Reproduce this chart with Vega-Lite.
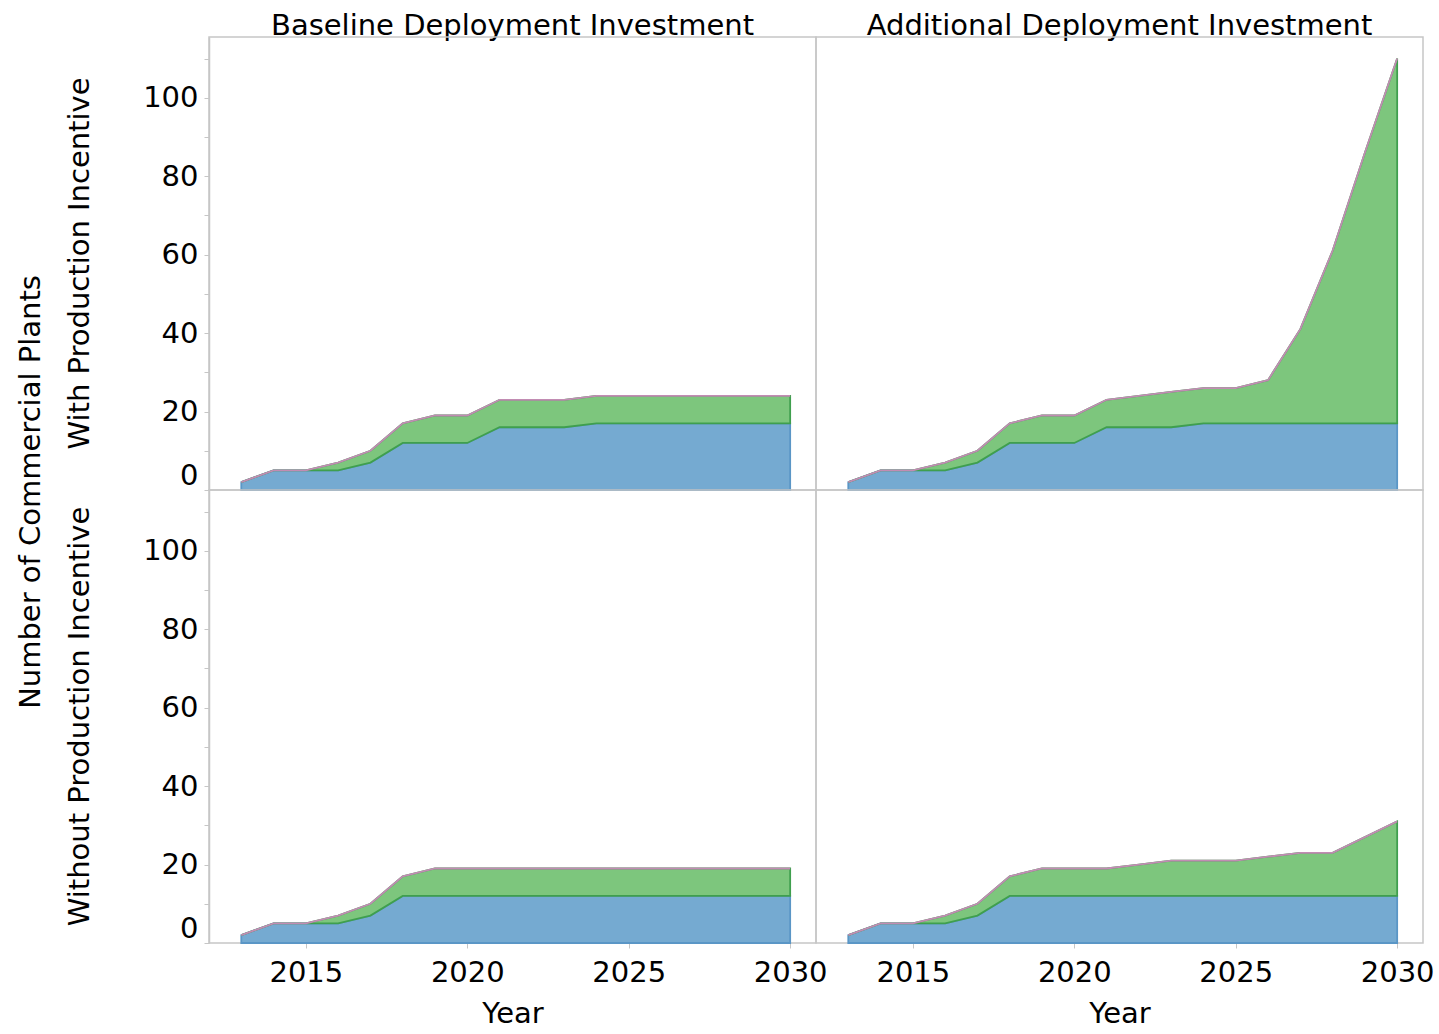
{
  "$schema": "https://vega.github.io/schema/vega-lite/v6.json",
  "padding": {"left": 16, "top": 12, "right": 10, "bottom": 5},
  "bounds": "flush",
  "config": {
    "font": "DejaVu Sans",
    "view": {"stroke": "#c6c6c6", "strokeWidth": 1.5},
    "facet": {"spacing": 0},
    "axis": {
      "grid": false,
      "domainColor": "#c6c6c6",
      "domainWidth": 1.5,
      "tickColor": "#c6c6c6",
      "tickSize": 5,
      "labelFontSize": 29,
      "labelColor": "#000000",
      "titleFontSize": 29,
      "titleFontWeight": "normal",
      "titleColor": "#000000"
    },
    "header": {
      "labelFontSize": 29,
      "labelColor": "#000000",
      "titleFontSize": 29,
      "titleFontWeight": "normal",
      "titleColor": "#000000"
    }
  },
  "data": {
    "values": [
      {"investment": "Baseline Deployment Investment", "incentive": "With Production Incentive", "year": 2013, "group": "Group 1", "plants": 2},
      {"investment": "Baseline Deployment Investment", "incentive": "With Production Incentive", "year": 2014, "group": "Group 1", "plants": 5},
      {"investment": "Baseline Deployment Investment", "incentive": "With Production Incentive", "year": 2015, "group": "Group 1", "plants": 5},
      {"investment": "Baseline Deployment Investment", "incentive": "With Production Incentive", "year": 2016, "group": "Group 1", "plants": 5},
      {"investment": "Baseline Deployment Investment", "incentive": "With Production Incentive", "year": 2017, "group": "Group 1", "plants": 7},
      {"investment": "Baseline Deployment Investment", "incentive": "With Production Incentive", "year": 2018, "group": "Group 1", "plants": 12},
      {"investment": "Baseline Deployment Investment", "incentive": "With Production Incentive", "year": 2019, "group": "Group 1", "plants": 12},
      {"investment": "Baseline Deployment Investment", "incentive": "With Production Incentive", "year": 2020, "group": "Group 1", "plants": 12},
      {"investment": "Baseline Deployment Investment", "incentive": "With Production Incentive", "year": 2021, "group": "Group 1", "plants": 16},
      {"investment": "Baseline Deployment Investment", "incentive": "With Production Incentive", "year": 2022, "group": "Group 1", "plants": 16},
      {"investment": "Baseline Deployment Investment", "incentive": "With Production Incentive", "year": 2023, "group": "Group 1", "plants": 16},
      {"investment": "Baseline Deployment Investment", "incentive": "With Production Incentive", "year": 2024, "group": "Group 1", "plants": 17},
      {"investment": "Baseline Deployment Investment", "incentive": "With Production Incentive", "year": 2025, "group": "Group 1", "plants": 17},
      {"investment": "Baseline Deployment Investment", "incentive": "With Production Incentive", "year": 2026, "group": "Group 1", "plants": 17},
      {"investment": "Baseline Deployment Investment", "incentive": "With Production Incentive", "year": 2027, "group": "Group 1", "plants": 17},
      {"investment": "Baseline Deployment Investment", "incentive": "With Production Incentive", "year": 2028, "group": "Group 1", "plants": 17},
      {"investment": "Baseline Deployment Investment", "incentive": "With Production Incentive", "year": 2029, "group": "Group 1", "plants": 17},
      {"investment": "Baseline Deployment Investment", "incentive": "With Production Incentive", "year": 2030, "group": "Group 1", "plants": 17},
      {"investment": "Baseline Deployment Investment", "incentive": "With Production Incentive", "year": 2013, "group": "Group 2", "plants": 0},
      {"investment": "Baseline Deployment Investment", "incentive": "With Production Incentive", "year": 2014, "group": "Group 2", "plants": 0},
      {"investment": "Baseline Deployment Investment", "incentive": "With Production Incentive", "year": 2015, "group": "Group 2", "plants": 0},
      {"investment": "Baseline Deployment Investment", "incentive": "With Production Incentive", "year": 2016, "group": "Group 2", "plants": 2},
      {"investment": "Baseline Deployment Investment", "incentive": "With Production Incentive", "year": 2017, "group": "Group 2", "plants": 3},
      {"investment": "Baseline Deployment Investment", "incentive": "With Production Incentive", "year": 2018, "group": "Group 2", "plants": 5},
      {"investment": "Baseline Deployment Investment", "incentive": "With Production Incentive", "year": 2019, "group": "Group 2", "plants": 7},
      {"investment": "Baseline Deployment Investment", "incentive": "With Production Incentive", "year": 2020, "group": "Group 2", "plants": 7},
      {"investment": "Baseline Deployment Investment", "incentive": "With Production Incentive", "year": 2021, "group": "Group 2", "plants": 7},
      {"investment": "Baseline Deployment Investment", "incentive": "With Production Incentive", "year": 2022, "group": "Group 2", "plants": 7},
      {"investment": "Baseline Deployment Investment", "incentive": "With Production Incentive", "year": 2023, "group": "Group 2", "plants": 7},
      {"investment": "Baseline Deployment Investment", "incentive": "With Production Incentive", "year": 2024, "group": "Group 2", "plants": 7},
      {"investment": "Baseline Deployment Investment", "incentive": "With Production Incentive", "year": 2025, "group": "Group 2", "plants": 7},
      {"investment": "Baseline Deployment Investment", "incentive": "With Production Incentive", "year": 2026, "group": "Group 2", "plants": 7},
      {"investment": "Baseline Deployment Investment", "incentive": "With Production Incentive", "year": 2027, "group": "Group 2", "plants": 7},
      {"investment": "Baseline Deployment Investment", "incentive": "With Production Incentive", "year": 2028, "group": "Group 2", "plants": 7},
      {"investment": "Baseline Deployment Investment", "incentive": "With Production Incentive", "year": 2029, "group": "Group 2", "plants": 7},
      {"investment": "Baseline Deployment Investment", "incentive": "With Production Incentive", "year": 2030, "group": "Group 2", "plants": 7},
      {"investment": "Baseline Deployment Investment", "incentive": "With Production Incentive", "year": 2013, "group": "Group 3", "plants": 0},
      {"investment": "Baseline Deployment Investment", "incentive": "With Production Incentive", "year": 2014, "group": "Group 3", "plants": 0},
      {"investment": "Baseline Deployment Investment", "incentive": "With Production Incentive", "year": 2015, "group": "Group 3", "plants": 0},
      {"investment": "Baseline Deployment Investment", "incentive": "With Production Incentive", "year": 2016, "group": "Group 3", "plants": 0},
      {"investment": "Baseline Deployment Investment", "incentive": "With Production Incentive", "year": 2017, "group": "Group 3", "plants": 0},
      {"investment": "Baseline Deployment Investment", "incentive": "With Production Incentive", "year": 2018, "group": "Group 3", "plants": 0},
      {"investment": "Baseline Deployment Investment", "incentive": "With Production Incentive", "year": 2019, "group": "Group 3", "plants": 0},
      {"investment": "Baseline Deployment Investment", "incentive": "With Production Incentive", "year": 2020, "group": "Group 3", "plants": 0},
      {"investment": "Baseline Deployment Investment", "incentive": "With Production Incentive", "year": 2021, "group": "Group 3", "plants": 0},
      {"investment": "Baseline Deployment Investment", "incentive": "With Production Incentive", "year": 2022, "group": "Group 3", "plants": 0},
      {"investment": "Baseline Deployment Investment", "incentive": "With Production Incentive", "year": 2023, "group": "Group 3", "plants": 0},
      {"investment": "Baseline Deployment Investment", "incentive": "With Production Incentive", "year": 2024, "group": "Group 3", "plants": 0},
      {"investment": "Baseline Deployment Investment", "incentive": "With Production Incentive", "year": 2025, "group": "Group 3", "plants": 0},
      {"investment": "Baseline Deployment Investment", "incentive": "With Production Incentive", "year": 2026, "group": "Group 3", "plants": 0},
      {"investment": "Baseline Deployment Investment", "incentive": "With Production Incentive", "year": 2027, "group": "Group 3", "plants": 0},
      {"investment": "Baseline Deployment Investment", "incentive": "With Production Incentive", "year": 2028, "group": "Group 3", "plants": 0},
      {"investment": "Baseline Deployment Investment", "incentive": "With Production Incentive", "year": 2029, "group": "Group 3", "plants": 0},
      {"investment": "Baseline Deployment Investment", "incentive": "With Production Incentive", "year": 2030, "group": "Group 3", "plants": 0},

      {"investment": "Additional Deployment Investment", "incentive": "With Production Incentive", "year": 2013, "group": "Group 1", "plants": 2},
      {"investment": "Additional Deployment Investment", "incentive": "With Production Incentive", "year": 2014, "group": "Group 1", "plants": 5},
      {"investment": "Additional Deployment Investment", "incentive": "With Production Incentive", "year": 2015, "group": "Group 1", "plants": 5},
      {"investment": "Additional Deployment Investment", "incentive": "With Production Incentive", "year": 2016, "group": "Group 1", "plants": 5},
      {"investment": "Additional Deployment Investment", "incentive": "With Production Incentive", "year": 2017, "group": "Group 1", "plants": 7},
      {"investment": "Additional Deployment Investment", "incentive": "With Production Incentive", "year": 2018, "group": "Group 1", "plants": 12},
      {"investment": "Additional Deployment Investment", "incentive": "With Production Incentive", "year": 2019, "group": "Group 1", "plants": 12},
      {"investment": "Additional Deployment Investment", "incentive": "With Production Incentive", "year": 2020, "group": "Group 1", "plants": 12},
      {"investment": "Additional Deployment Investment", "incentive": "With Production Incentive", "year": 2021, "group": "Group 1", "plants": 16},
      {"investment": "Additional Deployment Investment", "incentive": "With Production Incentive", "year": 2022, "group": "Group 1", "plants": 16},
      {"investment": "Additional Deployment Investment", "incentive": "With Production Incentive", "year": 2023, "group": "Group 1", "plants": 16},
      {"investment": "Additional Deployment Investment", "incentive": "With Production Incentive", "year": 2024, "group": "Group 1", "plants": 17},
      {"investment": "Additional Deployment Investment", "incentive": "With Production Incentive", "year": 2025, "group": "Group 1", "plants": 17},
      {"investment": "Additional Deployment Investment", "incentive": "With Production Incentive", "year": 2026, "group": "Group 1", "plants": 17},
      {"investment": "Additional Deployment Investment", "incentive": "With Production Incentive", "year": 2027, "group": "Group 1", "plants": 17},
      {"investment": "Additional Deployment Investment", "incentive": "With Production Incentive", "year": 2028, "group": "Group 1", "plants": 17},
      {"investment": "Additional Deployment Investment", "incentive": "With Production Incentive", "year": 2029, "group": "Group 1", "plants": 17},
      {"investment": "Additional Deployment Investment", "incentive": "With Production Incentive", "year": 2030, "group": "Group 1", "plants": 17},
      {"investment": "Additional Deployment Investment", "incentive": "With Production Incentive", "year": 2013, "group": "Group 2", "plants": 0},
      {"investment": "Additional Deployment Investment", "incentive": "With Production Incentive", "year": 2014, "group": "Group 2", "plants": 0},
      {"investment": "Additional Deployment Investment", "incentive": "With Production Incentive", "year": 2015, "group": "Group 2", "plants": 0},
      {"investment": "Additional Deployment Investment", "incentive": "With Production Incentive", "year": 2016, "group": "Group 2", "plants": 2},
      {"investment": "Additional Deployment Investment", "incentive": "With Production Incentive", "year": 2017, "group": "Group 2", "plants": 3},
      {"investment": "Additional Deployment Investment", "incentive": "With Production Incentive", "year": 2018, "group": "Group 2", "plants": 5},
      {"investment": "Additional Deployment Investment", "incentive": "With Production Incentive", "year": 2019, "group": "Group 2", "plants": 7},
      {"investment": "Additional Deployment Investment", "incentive": "With Production Incentive", "year": 2020, "group": "Group 2", "plants": 7},
      {"investment": "Additional Deployment Investment", "incentive": "With Production Incentive", "year": 2021, "group": "Group 2", "plants": 7},
      {"investment": "Additional Deployment Investment", "incentive": "With Production Incentive", "year": 2022, "group": "Group 2", "plants": 8},
      {"investment": "Additional Deployment Investment", "incentive": "With Production Incentive", "year": 2023, "group": "Group 2", "plants": 9},
      {"investment": "Additional Deployment Investment", "incentive": "With Production Incentive", "year": 2024, "group": "Group 2", "plants": 9},
      {"investment": "Additional Deployment Investment", "incentive": "With Production Incentive", "year": 2025, "group": "Group 2", "plants": 9},
      {"investment": "Additional Deployment Investment", "incentive": "With Production Incentive", "year": 2026, "group": "Group 2", "plants": 11},
      {"investment": "Additional Deployment Investment", "incentive": "With Production Incentive", "year": 2027, "group": "Group 2", "plants": 24},
      {"investment": "Additional Deployment Investment", "incentive": "With Production Incentive", "year": 2028, "group": "Group 2", "plants": 44},
      {"investment": "Additional Deployment Investment", "incentive": "With Production Incentive", "year": 2029, "group": "Group 2", "plants": 69},
      {"investment": "Additional Deployment Investment", "incentive": "With Production Incentive", "year": 2030, "group": "Group 2", "plants": 93},
      {"investment": "Additional Deployment Investment", "incentive": "With Production Incentive", "year": 2013, "group": "Group 3", "plants": 0},
      {"investment": "Additional Deployment Investment", "incentive": "With Production Incentive", "year": 2014, "group": "Group 3", "plants": 0},
      {"investment": "Additional Deployment Investment", "incentive": "With Production Incentive", "year": 2015, "group": "Group 3", "plants": 0},
      {"investment": "Additional Deployment Investment", "incentive": "With Production Incentive", "year": 2016, "group": "Group 3", "plants": 0},
      {"investment": "Additional Deployment Investment", "incentive": "With Production Incentive", "year": 2017, "group": "Group 3", "plants": 0},
      {"investment": "Additional Deployment Investment", "incentive": "With Production Incentive", "year": 2018, "group": "Group 3", "plants": 0},
      {"investment": "Additional Deployment Investment", "incentive": "With Production Incentive", "year": 2019, "group": "Group 3", "plants": 0},
      {"investment": "Additional Deployment Investment", "incentive": "With Production Incentive", "year": 2020, "group": "Group 3", "plants": 0},
      {"investment": "Additional Deployment Investment", "incentive": "With Production Incentive", "year": 2021, "group": "Group 3", "plants": 0},
      {"investment": "Additional Deployment Investment", "incentive": "With Production Incentive", "year": 2022, "group": "Group 3", "plants": 0},
      {"investment": "Additional Deployment Investment", "incentive": "With Production Incentive", "year": 2023, "group": "Group 3", "plants": 0},
      {"investment": "Additional Deployment Investment", "incentive": "With Production Incentive", "year": 2024, "group": "Group 3", "plants": 0},
      {"investment": "Additional Deployment Investment", "incentive": "With Production Incentive", "year": 2025, "group": "Group 3", "plants": 0},
      {"investment": "Additional Deployment Investment", "incentive": "With Production Incentive", "year": 2026, "group": "Group 3", "plants": 0},
      {"investment": "Additional Deployment Investment", "incentive": "With Production Incentive", "year": 2027, "group": "Group 3", "plants": 0},
      {"investment": "Additional Deployment Investment", "incentive": "With Production Incentive", "year": 2028, "group": "Group 3", "plants": 0},
      {"investment": "Additional Deployment Investment", "incentive": "With Production Incentive", "year": 2029, "group": "Group 3", "plants": 0},
      {"investment": "Additional Deployment Investment", "incentive": "With Production Incentive", "year": 2030, "group": "Group 3", "plants": 0},

      {"investment": "Baseline Deployment Investment", "incentive": "Without Production Incentive", "year": 2013, "group": "Group 1", "plants": 2},
      {"investment": "Baseline Deployment Investment", "incentive": "Without Production Incentive", "year": 2014, "group": "Group 1", "plants": 5},
      {"investment": "Baseline Deployment Investment", "incentive": "Without Production Incentive", "year": 2015, "group": "Group 1", "plants": 5},
      {"investment": "Baseline Deployment Investment", "incentive": "Without Production Incentive", "year": 2016, "group": "Group 1", "plants": 5},
      {"investment": "Baseline Deployment Investment", "incentive": "Without Production Incentive", "year": 2017, "group": "Group 1", "plants": 7},
      {"investment": "Baseline Deployment Investment", "incentive": "Without Production Incentive", "year": 2018, "group": "Group 1", "plants": 12},
      {"investment": "Baseline Deployment Investment", "incentive": "Without Production Incentive", "year": 2019, "group": "Group 1", "plants": 12},
      {"investment": "Baseline Deployment Investment", "incentive": "Without Production Incentive", "year": 2020, "group": "Group 1", "plants": 12},
      {"investment": "Baseline Deployment Investment", "incentive": "Without Production Incentive", "year": 2021, "group": "Group 1", "plants": 12},
      {"investment": "Baseline Deployment Investment", "incentive": "Without Production Incentive", "year": 2022, "group": "Group 1", "plants": 12},
      {"investment": "Baseline Deployment Investment", "incentive": "Without Production Incentive", "year": 2023, "group": "Group 1", "plants": 12},
      {"investment": "Baseline Deployment Investment", "incentive": "Without Production Incentive", "year": 2024, "group": "Group 1", "plants": 12},
      {"investment": "Baseline Deployment Investment", "incentive": "Without Production Incentive", "year": 2025, "group": "Group 1", "plants": 12},
      {"investment": "Baseline Deployment Investment", "incentive": "Without Production Incentive", "year": 2026, "group": "Group 1", "plants": 12},
      {"investment": "Baseline Deployment Investment", "incentive": "Without Production Incentive", "year": 2027, "group": "Group 1", "plants": 12},
      {"investment": "Baseline Deployment Investment", "incentive": "Without Production Incentive", "year": 2028, "group": "Group 1", "plants": 12},
      {"investment": "Baseline Deployment Investment", "incentive": "Without Production Incentive", "year": 2029, "group": "Group 1", "plants": 12},
      {"investment": "Baseline Deployment Investment", "incentive": "Without Production Incentive", "year": 2030, "group": "Group 1", "plants": 12},
      {"investment": "Baseline Deployment Investment", "incentive": "Without Production Incentive", "year": 2013, "group": "Group 2", "plants": 0},
      {"investment": "Baseline Deployment Investment", "incentive": "Without Production Incentive", "year": 2014, "group": "Group 2", "plants": 0},
      {"investment": "Baseline Deployment Investment", "incentive": "Without Production Incentive", "year": 2015, "group": "Group 2", "plants": 0},
      {"investment": "Baseline Deployment Investment", "incentive": "Without Production Incentive", "year": 2016, "group": "Group 2", "plants": 2},
      {"investment": "Baseline Deployment Investment", "incentive": "Without Production Incentive", "year": 2017, "group": "Group 2", "plants": 3},
      {"investment": "Baseline Deployment Investment", "incentive": "Without Production Incentive", "year": 2018, "group": "Group 2", "plants": 5},
      {"investment": "Baseline Deployment Investment", "incentive": "Without Production Incentive", "year": 2019, "group": "Group 2", "plants": 7},
      {"investment": "Baseline Deployment Investment", "incentive": "Without Production Incentive", "year": 2020, "group": "Group 2", "plants": 7},
      {"investment": "Baseline Deployment Investment", "incentive": "Without Production Incentive", "year": 2021, "group": "Group 2", "plants": 7},
      {"investment": "Baseline Deployment Investment", "incentive": "Without Production Incentive", "year": 2022, "group": "Group 2", "plants": 7},
      {"investment": "Baseline Deployment Investment", "incentive": "Without Production Incentive", "year": 2023, "group": "Group 2", "plants": 7},
      {"investment": "Baseline Deployment Investment", "incentive": "Without Production Incentive", "year": 2024, "group": "Group 2", "plants": 7},
      {"investment": "Baseline Deployment Investment", "incentive": "Without Production Incentive", "year": 2025, "group": "Group 2", "plants": 7},
      {"investment": "Baseline Deployment Investment", "incentive": "Without Production Incentive", "year": 2026, "group": "Group 2", "plants": 7},
      {"investment": "Baseline Deployment Investment", "incentive": "Without Production Incentive", "year": 2027, "group": "Group 2", "plants": 7},
      {"investment": "Baseline Deployment Investment", "incentive": "Without Production Incentive", "year": 2028, "group": "Group 2", "plants": 7},
      {"investment": "Baseline Deployment Investment", "incentive": "Without Production Incentive", "year": 2029, "group": "Group 2", "plants": 7},
      {"investment": "Baseline Deployment Investment", "incentive": "Without Production Incentive", "year": 2030, "group": "Group 2", "plants": 7},
      {"investment": "Baseline Deployment Investment", "incentive": "Without Production Incentive", "year": 2013, "group": "Group 3", "plants": 0},
      {"investment": "Baseline Deployment Investment", "incentive": "Without Production Incentive", "year": 2014, "group": "Group 3", "plants": 0},
      {"investment": "Baseline Deployment Investment", "incentive": "Without Production Incentive", "year": 2015, "group": "Group 3", "plants": 0},
      {"investment": "Baseline Deployment Investment", "incentive": "Without Production Incentive", "year": 2016, "group": "Group 3", "plants": 0},
      {"investment": "Baseline Deployment Investment", "incentive": "Without Production Incentive", "year": 2017, "group": "Group 3", "plants": 0},
      {"investment": "Baseline Deployment Investment", "incentive": "Without Production Incentive", "year": 2018, "group": "Group 3", "plants": 0},
      {"investment": "Baseline Deployment Investment", "incentive": "Without Production Incentive", "year": 2019, "group": "Group 3", "plants": 0},
      {"investment": "Baseline Deployment Investment", "incentive": "Without Production Incentive", "year": 2020, "group": "Group 3", "plants": 0},
      {"investment": "Baseline Deployment Investment", "incentive": "Without Production Incentive", "year": 2021, "group": "Group 3", "plants": 0},
      {"investment": "Baseline Deployment Investment", "incentive": "Without Production Incentive", "year": 2022, "group": "Group 3", "plants": 0},
      {"investment": "Baseline Deployment Investment", "incentive": "Without Production Incentive", "year": 2023, "group": "Group 3", "plants": 0},
      {"investment": "Baseline Deployment Investment", "incentive": "Without Production Incentive", "year": 2024, "group": "Group 3", "plants": 0},
      {"investment": "Baseline Deployment Investment", "incentive": "Without Production Incentive", "year": 2025, "group": "Group 3", "plants": 0},
      {"investment": "Baseline Deployment Investment", "incentive": "Without Production Incentive", "year": 2026, "group": "Group 3", "plants": 0},
      {"investment": "Baseline Deployment Investment", "incentive": "Without Production Incentive", "year": 2027, "group": "Group 3", "plants": 0},
      {"investment": "Baseline Deployment Investment", "incentive": "Without Production Incentive", "year": 2028, "group": "Group 3", "plants": 0},
      {"investment": "Baseline Deployment Investment", "incentive": "Without Production Incentive", "year": 2029, "group": "Group 3", "plants": 0},
      {"investment": "Baseline Deployment Investment", "incentive": "Without Production Incentive", "year": 2030, "group": "Group 3", "plants": 0},

      {"investment": "Additional Deployment Investment", "incentive": "Without Production Incentive", "year": 2013, "group": "Group 1", "plants": 2},
      {"investment": "Additional Deployment Investment", "incentive": "Without Production Incentive", "year": 2014, "group": "Group 1", "plants": 5},
      {"investment": "Additional Deployment Investment", "incentive": "Without Production Incentive", "year": 2015, "group": "Group 1", "plants": 5},
      {"investment": "Additional Deployment Investment", "incentive": "Without Production Incentive", "year": 2016, "group": "Group 1", "plants": 5},
      {"investment": "Additional Deployment Investment", "incentive": "Without Production Incentive", "year": 2017, "group": "Group 1", "plants": 7},
      {"investment": "Additional Deployment Investment", "incentive": "Without Production Incentive", "year": 2018, "group": "Group 1", "plants": 12},
      {"investment": "Additional Deployment Investment", "incentive": "Without Production Incentive", "year": 2019, "group": "Group 1", "plants": 12},
      {"investment": "Additional Deployment Investment", "incentive": "Without Production Incentive", "year": 2020, "group": "Group 1", "plants": 12},
      {"investment": "Additional Deployment Investment", "incentive": "Without Production Incentive", "year": 2021, "group": "Group 1", "plants": 12},
      {"investment": "Additional Deployment Investment", "incentive": "Without Production Incentive", "year": 2022, "group": "Group 1", "plants": 12},
      {"investment": "Additional Deployment Investment", "incentive": "Without Production Incentive", "year": 2023, "group": "Group 1", "plants": 12},
      {"investment": "Additional Deployment Investment", "incentive": "Without Production Incentive", "year": 2024, "group": "Group 1", "plants": 12},
      {"investment": "Additional Deployment Investment", "incentive": "Without Production Incentive", "year": 2025, "group": "Group 1", "plants": 12},
      {"investment": "Additional Deployment Investment", "incentive": "Without Production Incentive", "year": 2026, "group": "Group 1", "plants": 12},
      {"investment": "Additional Deployment Investment", "incentive": "Without Production Incentive", "year": 2027, "group": "Group 1", "plants": 12},
      {"investment": "Additional Deployment Investment", "incentive": "Without Production Incentive", "year": 2028, "group": "Group 1", "plants": 12},
      {"investment": "Additional Deployment Investment", "incentive": "Without Production Incentive", "year": 2029, "group": "Group 1", "plants": 12},
      {"investment": "Additional Deployment Investment", "incentive": "Without Production Incentive", "year": 2030, "group": "Group 1", "plants": 12},
      {"investment": "Additional Deployment Investment", "incentive": "Without Production Incentive", "year": 2013, "group": "Group 2", "plants": 0},
      {"investment": "Additional Deployment Investment", "incentive": "Without Production Incentive", "year": 2014, "group": "Group 2", "plants": 0},
      {"investment": "Additional Deployment Investment", "incentive": "Without Production Incentive", "year": 2015, "group": "Group 2", "plants": 0},
      {"investment": "Additional Deployment Investment", "incentive": "Without Production Incentive", "year": 2016, "group": "Group 2", "plants": 2},
      {"investment": "Additional Deployment Investment", "incentive": "Without Production Incentive", "year": 2017, "group": "Group 2", "plants": 3},
      {"investment": "Additional Deployment Investment", "incentive": "Without Production Incentive", "year": 2018, "group": "Group 2", "plants": 5},
      {"investment": "Additional Deployment Investment", "incentive": "Without Production Incentive", "year": 2019, "group": "Group 2", "plants": 7},
      {"investment": "Additional Deployment Investment", "incentive": "Without Production Incentive", "year": 2020, "group": "Group 2", "plants": 7},
      {"investment": "Additional Deployment Investment", "incentive": "Without Production Incentive", "year": 2021, "group": "Group 2", "plants": 7},
      {"investment": "Additional Deployment Investment", "incentive": "Without Production Incentive", "year": 2022, "group": "Group 2", "plants": 8},
      {"investment": "Additional Deployment Investment", "incentive": "Without Production Incentive", "year": 2023, "group": "Group 2", "plants": 9},
      {"investment": "Additional Deployment Investment", "incentive": "Without Production Incentive", "year": 2024, "group": "Group 2", "plants": 9},
      {"investment": "Additional Deployment Investment", "incentive": "Without Production Incentive", "year": 2025, "group": "Group 2", "plants": 9},
      {"investment": "Additional Deployment Investment", "incentive": "Without Production Incentive", "year": 2026, "group": "Group 2", "plants": 10},
      {"investment": "Additional Deployment Investment", "incentive": "Without Production Incentive", "year": 2027, "group": "Group 2", "plants": 11},
      {"investment": "Additional Deployment Investment", "incentive": "Without Production Incentive", "year": 2028, "group": "Group 2", "plants": 11},
      {"investment": "Additional Deployment Investment", "incentive": "Without Production Incentive", "year": 2029, "group": "Group 2", "plants": 15},
      {"investment": "Additional Deployment Investment", "incentive": "Without Production Incentive", "year": 2030, "group": "Group 2", "plants": 19},
      {"investment": "Additional Deployment Investment", "incentive": "Without Production Incentive", "year": 2013, "group": "Group 3", "plants": 0},
      {"investment": "Additional Deployment Investment", "incentive": "Without Production Incentive", "year": 2014, "group": "Group 3", "plants": 0},
      {"investment": "Additional Deployment Investment", "incentive": "Without Production Incentive", "year": 2015, "group": "Group 3", "plants": 0},
      {"investment": "Additional Deployment Investment", "incentive": "Without Production Incentive", "year": 2016, "group": "Group 3", "plants": 0},
      {"investment": "Additional Deployment Investment", "incentive": "Without Production Incentive", "year": 2017, "group": "Group 3", "plants": 0},
      {"investment": "Additional Deployment Investment", "incentive": "Without Production Incentive", "year": 2018, "group": "Group 3", "plants": 0},
      {"investment": "Additional Deployment Investment", "incentive": "Without Production Incentive", "year": 2019, "group": "Group 3", "plants": 0},
      {"investment": "Additional Deployment Investment", "incentive": "Without Production Incentive", "year": 2020, "group": "Group 3", "plants": 0},
      {"investment": "Additional Deployment Investment", "incentive": "Without Production Incentive", "year": 2021, "group": "Group 3", "plants": 0},
      {"investment": "Additional Deployment Investment", "incentive": "Without Production Incentive", "year": 2022, "group": "Group 3", "plants": 0},
      {"investment": "Additional Deployment Investment", "incentive": "Without Production Incentive", "year": 2023, "group": "Group 3", "plants": 0},
      {"investment": "Additional Deployment Investment", "incentive": "Without Production Incentive", "year": 2024, "group": "Group 3", "plants": 0},
      {"investment": "Additional Deployment Investment", "incentive": "Without Production Incentive", "year": 2025, "group": "Group 3", "plants": 0},
      {"investment": "Additional Deployment Investment", "incentive": "Without Production Incentive", "year": 2026, "group": "Group 3", "plants": 0},
      {"investment": "Additional Deployment Investment", "incentive": "Without Production Incentive", "year": 2027, "group": "Group 3", "plants": 0},
      {"investment": "Additional Deployment Investment", "incentive": "Without Production Incentive", "year": 2028, "group": "Group 3", "plants": 0},
      {"investment": "Additional Deployment Investment", "incentive": "Without Production Incentive", "year": 2029, "group": "Group 3", "plants": 0},
      {"investment": "Additional Deployment Investment", "incentive": "Without Production Incentive", "year": 2030, "group": "Group 3", "plants": 0}
    ]
  },
  "facet": {
    "row": {
      "field": "incentive",
      "type": "nominal",
      "sort": ["With Production Incentive", "Without Production Incentive"],
      "header": {
        "title": "Number of Commercial Plants",
        "titlePadding": 9,
        "labelPadding": 34,
        "labelAngle": -90
      }
    },
    "column": {
      "field": "investment",
      "type": "nominal",
      "sort": ["Baseline Deployment Investment", "Additional Deployment Investment"],
      "header": {"title": null, "labelPadding": -4}
    }
  },
  "spec": {
    "width": 607,
    "height": 453,
    "mark": {"type": "area", "strokeWidth": 1.8, "opacity": 1},
    "encoding": {
      "x": {
        "field": "year",
        "type": "quantitative",
        "title": "Year",
        "scale": {"domain": [2012, 2030.8], "nice": false, "zero": false},
        "axis": {"values": [2015, 2020, 2025, 2030], "format": "d", "domain": false, "labelPadding": 10, "titlePadding": 12, "labelFlush": false}
      },
      "y": {
        "field": "plants",
        "type": "quantitative",
        "stack": "zero",
        "title": null,
        "scale": {"domain": [0, 115.5], "nice": false},
        "axis": {
          "values": [0, 10, 20, 30, 40, 50, 60, 70, 80, 90, 100, 110],
          "labelExpr": "datum.value % 20 === 0 ? datum.label : ''",
          "labelPadding": 6,
          "labelFlush": true
        }
      },
      "fill": {
        "field": "group",
        "type": "nominal",
        "legend": null,
        "scale": {"domain": ["Group 1", "Group 2", "Group 3"], "range": ["#75aad1", "#7dc67d", "#c99bbd"]}
      },
      "stroke": {
        "field": "group",
        "type": "nominal",
        "legend": null,
        "scale": {"domain": ["Group 1", "Group 2", "Group 3"], "range": ["#5a96c6", "#3f9f4e", "#c28cb3"]}
      },
      "order": {"field": "group", "sort": "ascending"}
    }
  }
}
